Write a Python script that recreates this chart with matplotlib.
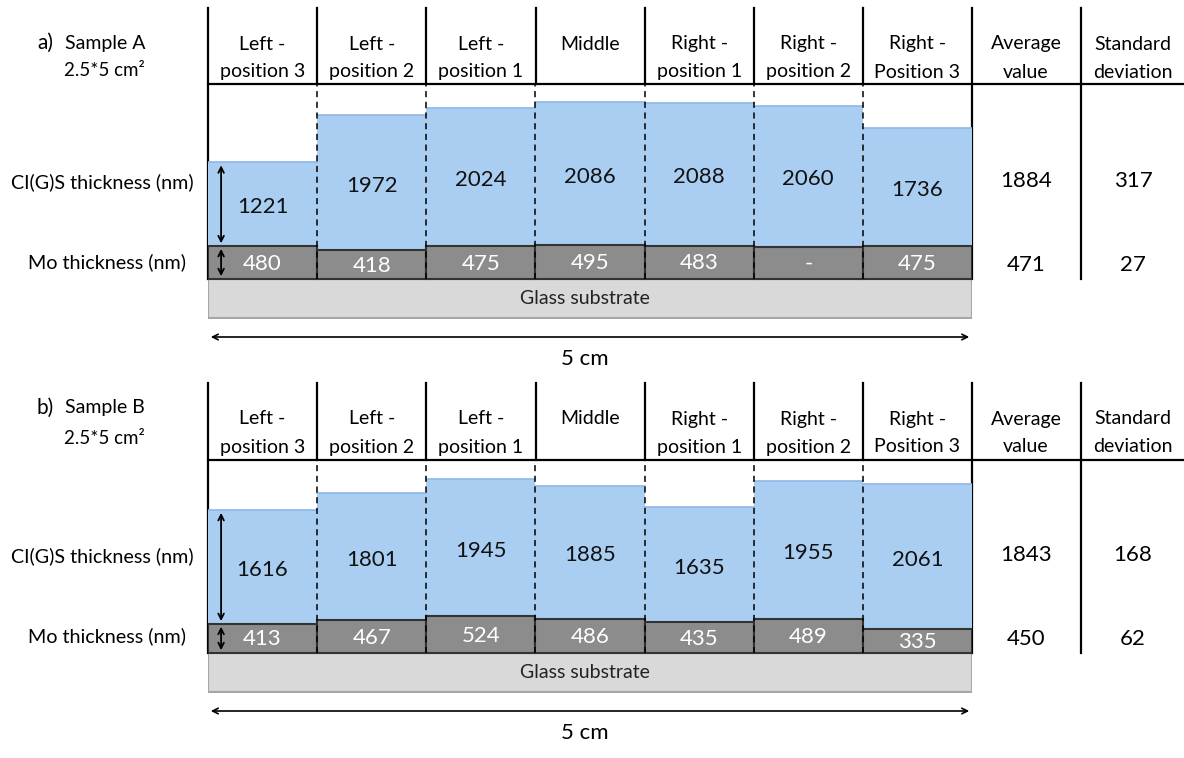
import matplotlib
matplotlib.use("Agg")
import matplotlib.pyplot as plt
from matplotlib.patches import Rectangle

plt.rcParams['font.family'] = ['Lato', 'DejaVu Sans']

# data
positions = ["Left -\nposition 3", "Left -\nposition 2", "Left -\nposition 1", "Middle\n ",
             "Right -\nposition 1", "Right -\nposition 2", "Right -\nPosition 3"]
stat_headers = ["Average\nvalue", "Standard\ndeviation"]

cigs_a = [1221, 1972, 2024, 2086, 2088, 2060, 1736]
mo_a = [480, 418, 475, 495, 483, None, 475]
cigs_stats_a = [1884, 317]
mo_stats_a = [471, 27]

cigs_b = [1616, 1801, 1945, 1885, 1635, 1955, 2061]
mo_b = [413, 467, 524, 486, 435, 489, 335]
cigs_stats_b = [1843, 168]
mo_stats_b = [450, 62]

W, H = 1184, 758
BLUE = "#A9CEF2"
MO = "#8C8C8C"
GLASS = "#D9D9D9"

fig = plt.figure(figsize=(W / 100, H / 100), dpi=100)
ov = fig.add_axes([0, 0, 1, 1])
ov.set_xlim(0, W)
ov.set_ylim(H, 0)
ov.axis("off")

x0, x1, x2 = 208, 972, 1081   # stack left / right, stat column split
stat_x = [1026, 1133]


def draw_panel(tag, name, cigs, mo, cigs_stats, mo_stats, top, head_y, glass_top, scale, name_dy):
    glass_bot = glass_top + 40
    # stack axes in nm, columns 0..7
    ax = fig.add_axes([x0 / W, 1 - glass_bot / H, (x1 - x0) / W, (glass_bot - head_y) / H])
    ax.set_xlim(0, 7)
    ax.set_ylim(-(glass_bot - glass_top) * scale, (glass_top - head_y) * scale)
    ax.axis("off")
    ax.patch.set_alpha(0)

    mo_h = [m if m is not None else mo_stats[0] for m in mo]
    xs = list(range(7))
    ax.bar(xs, cigs, width=1, bottom=mo_h, align="edge", color=BLUE, edgecolor="none", zorder=1)
    for i in xs:
        ax.plot([i, i + 1], [mo_h[i] + cigs[i]] * 2, color="#8FB6E6", lw=1.2, zorder=2)
    ax.bar(xs, mo_h, width=1, align="edge", color=MO, edgecolor="#333333", linewidth=1.5, zorder=3)
    ax.add_patch(Rectangle((0, -(glass_bot - glass_top - 1) * scale), 7, (glass_bot - glass_top - 1) * scale,
                           facecolor=GLASS, edgecolor="#A6A6A6", lw=1.5, zorder=1))
    ax.text(3.45, -(glass_bot - glass_top) * scale / 2, "Glass substrate", ha="center", va="center",
            fontsize=14, color="#222222")

    for i in xs:
        ax.text(i + 0.5, mo_h[i] + cigs[i] / 2 - 3 * scale, str(cigs[i]), ha="center", va="center",
                fontsize=16, color="#111111", zorder=5)
        lab = str(mo[i]) if mo[i] is not None else "-"
        ax.text(i + 0.5, mo_h[i] / 2 - 1 * scale, lab, ha="center", va="center",
                fontsize=16, color="white", zorder=5)
    # dashed column separators
    for i in range(1, 7):
        ax.plot([i, i], [0, (glass_top - head_y) * scale], color="black", lw=1.1,
                ls=(0, (4, 3)), zorder=4)
    # double arrows in first column
    ax.annotate("", xy=(0.12, mo_h[0]), xytext=(0.12, mo_h[0] + cigs[0]),
                arrowprops=dict(arrowstyle="<->", color="black", lw=1.3), zorder=6)
    ax.annotate("", xy=(0.12, 0), xytext=(0.12, mo_h[0]),
                arrowprops=dict(arrowstyle="<->", color="black", lw=1.3), zorder=6)

    # table lines
    lk = dict(color="black", lw=1.6)
    ov.plot([x0, x0], [top, glass_top], **lk)
    for xc in [317, 426, 536, 645, 754, 863]:
        ov.plot([xc, xc], [top, head_y], **lk)
    ov.plot([x1, x1], [top, glass_top], **lk)
    ov.plot([x2, x2], [top, glass_top], **lk)
    ov.plot([x0, W], [head_y, head_y], **lk)

    # header texts
    col_w = (x1 - x0) / 7
    for i, p in enumerate(positions):
        l1, l2 = p.split("\n")
        ov.text(x0 + col_w * (i + 0.5), top + 36, l1, ha="center", va="center", fontsize=14)
        ov.text(x0 + col_w * (i + 0.5), top + 64, l2, ha="center", va="center", fontsize=14)
    for xc, s in zip(stat_x, stat_headers):
        l1, l2 = s.split("\n")
        ov.text(xc, top + 36, l1, ha="center", va="center", fontsize=14)
        ov.text(xc, top + 64, l2, ha="center", va="center", fontsize=14)

    # stats values
    for xc, c, m in zip(stat_x, cigs_stats, mo_stats):
        ov.text(xc, glass_top - 98, str(c), ha="center", va="center", fontsize=16)
        ov.text(xc, glass_top - 14, str(m), ha="center", va="center", fontsize=16)

    # left labels
    ov.text(45, top + name_dy[0], tag, ha="center", va="center", fontsize=15)
    ov.text(65, top + name_dy[0], name, ha="left", va="center", fontsize=14)
    ov.text(104, top + name_dy[1], "2.5*5 cm²", ha="center", va="center", fontsize=13.5)
    ov.text(102, glass_top - 97, "CI(G)S thickness (nm)", ha="center", va="center", fontsize=14.2)
    ov.text(107, glass_top - 17, "Mo thickness (nm)", ha="center", va="center", fontsize=14.2)

    # 5 cm arrow
    ay = glass_bot + 18
    ov.annotate("", xy=(x0, ay), xytext=(x1, ay),
                arrowprops=dict(arrowstyle="<->", color="black", lw=1.2))
    ov.text(585, glass_bot + 40, "5 cm", ha="center", va="center", fontsize=16)


draw_panel("a)", "Sample A", cigs_a, mo_a, cigs_stats_a, mo_stats_a, 8, 84, 279, 14.6, (35, 63))
draw_panel("b)", "Sample B", cigs_b, mo_b, cigs_stats_b, mo_stats_b, 383, 460, 653, 14.2, (25, 55))

fig.savefig("out.png", dpi=100, facecolor="white")
